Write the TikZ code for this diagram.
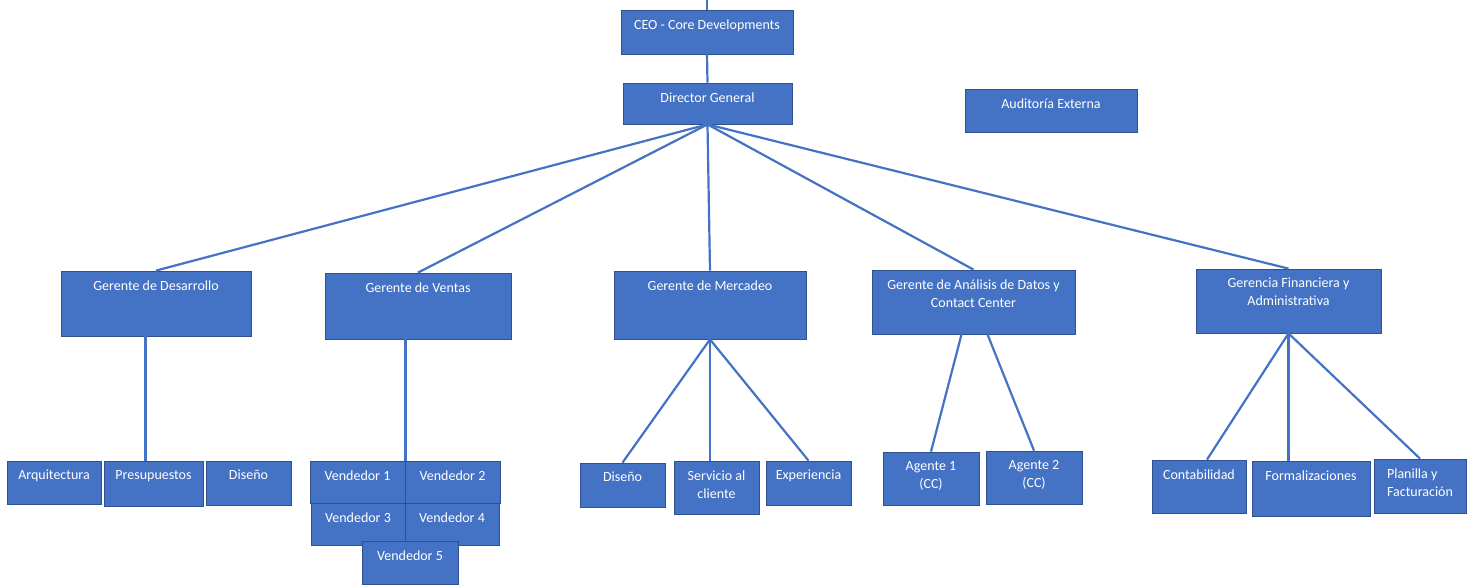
\documentclass[tikz,border=0pt]{standalone}
\usepackage{fontspec}
\setmainfont{Carlito}
\usepackage{tikz}
\usetikzlibrary{positioning, calc}
\definecolor{cBox}{RGB}{68,114,196}
\definecolor{cEdge}{RGB}{47,82,143}

\begin{document}
\begin{tikzpicture}[x=1pt, y=-1pt,
                    box/.style={draw=cEdge, fill=cBox, line width=0.8pt, inner sep=0pt},
                    txt/.style={anchor=north, yshift=-8.5pt, inner sep=1pt, text=white, align=center,
                                font=\fontsize{14}{18}\selectfont},
                    link/.style={draw=cBox, line width=2.2pt}]
    \useasboundingbox (0,0) rectangle (1476,586);

    % Top
    \coordinate (root) at (707,0);
    \node[box, minimum width=172pt, minimum height=44pt, label={[txt]90:CEO - Core Developments}] (ceo) at (707,32) {};
    \node[box, minimum width=169pt, minimum height=41pt, label={[txt]90:Director General}] (dg) at (707.5,103.5) {};
    \node[box, minimum width=172pt, minimum height=43pt, label={[txt]90:Auditoría Externa}] (audit) at (1051,110.5) {};

    % Managers
    \node[box, minimum width=190pt, minimum height=65pt, label={[txt]90:Gerente de Desarrollo}] (desarrollo) at (156,303.5) {};
    \node[box, minimum width=186pt, minimum height=66pt, label={[txt]90:Gerente de Ventas}] (ventas) at (418,306) {};
    \node[box, minimum width=192pt, minimum height=68pt, label={[txt]90:Gerente de Mercadeo}] (mercadeo) at (710,305) {};
    \node[box, minimum width=203pt, minimum height=64pt, label={[txt]90:Gerente de Análisis de Datos y\\Contact Center}] (analisis) at (973.5,302) {};
    \node[box, minimum width=185pt, minimum height=64pt, label={[txt]90:Gerencia Financiera y\\Administrativa}] (financiera) at (1288.5,301) {};

    % Desarrollo
    \node[box, minimum width=94pt, minimum height=43pt, label={[txt]90:Arquitectura}] (arq) at (54,482.5) {};
    \node[box, minimum width=99pt, minimum height=45pt, label={[txt]90:Presupuestos}] (presup) at (153.5,483.5) {};
    \node[box, minimum width=85pt, minimum height=44pt, label={[txt]90:Diseño}] (disdes) at (248.5,483) {};

    % Ventas
    \node[box, minimum width=95pt, minimum height=42pt, label={[txt]90:Vendedor 1}] (v1) at (357.5,482) {};
    \node[box, minimum width=95pt, minimum height=42pt, label={[txt]90:Vendedor 2}] (v2) at (452.5,482) {};
    \node[box, minimum width=94pt, minimum height=42pt, label={[txt]90:Vendedor 3}] (v3) at (358,524) {};
    \node[box, minimum width=94pt, minimum height=42pt, label={[txt]90:Vendedor 4}] (v4) at (452,524) {};
    \node[box, minimum width=96pt, minimum height=43pt, label={[txt]90:Vendedor 5}] (v5) at (410,562.5) {};

    % Mercadeo
    \node[box, minimum width=85pt, minimum height=44pt, label={[txt]90:Diseño}] (dismer) at (622.5,485) {};
    \node[box, minimum width=85pt, minimum height=53pt, label={[txt]90:Servicio al\\cliente}] (servicio) at (716.5,487.5) {};
    \node[box, minimum width=85pt, minimum height=44pt, label={[txt]90:Experiencia}] (experiencia) at (808.5,483) {};

    % Contact Center
    \node[box, minimum width=96pt, minimum height=53pt, label={[txt]90:Agente 1\\(CC)}] (agente1) at (931,478.5) {};
    \node[box, minimum width=96pt, minimum height=53pt, label={[txt]90:Agente 2\\(CC)}] (agente2) at (1034,477.5) {};

    % Financiera
    \node[box, minimum width=94pt, minimum height=53pt, label={[txt]90:Contabilidad}] (contab) at (1199,486.5) {};
    \node[box, minimum width=118pt, minimum height=55pt, label={[txt]90:Formalizaciones}] (formal) at (1311,488.5) {};
    \node[box, minimum width=92pt, minimum height=54pt, label={[txt, align=left]90:Planilla y\\Facturación}] (planilla) at (1420,486) {};

    % Links
    \draw[link] (root) -- (ceo.north);
    \draw[link] (ceo.south) -- (dg.north);
    \foreach \m in {desarrollo, ventas, mercadeo, analisis, financiera}
        \draw[link] (dg.south) -- (\m.north);
    \draw[link] ([xshift=-8pt]desarrollo.south -| presup.north) -- ([xshift=-8pt]presup.north);
    \draw[link] (ventas.south -| v1.north east) -- (v1.north east);
    \draw[link] (mercadeo.south) -- (dismer.north);
    \draw[link] (mercadeo.south) -- (mercadeo.south |- servicio.north);
    \draw[link] (mercadeo.south) -- (experiencia.north);
    \draw[link] ([xshift=-12pt]analisis.south) -- (agente1.north);
    \draw[link] ([xshift=14pt]analisis.south) -- (agente2.north);
    \draw[link] (financiera.south) -- ([xshift=8pt]contab.north);
    \draw[link] (financiera.south) -- (financiera.south |- formal.north);
    \draw[link] (financiera.south) -- (planilla.north);

\end{tikzpicture}
\end{document}
